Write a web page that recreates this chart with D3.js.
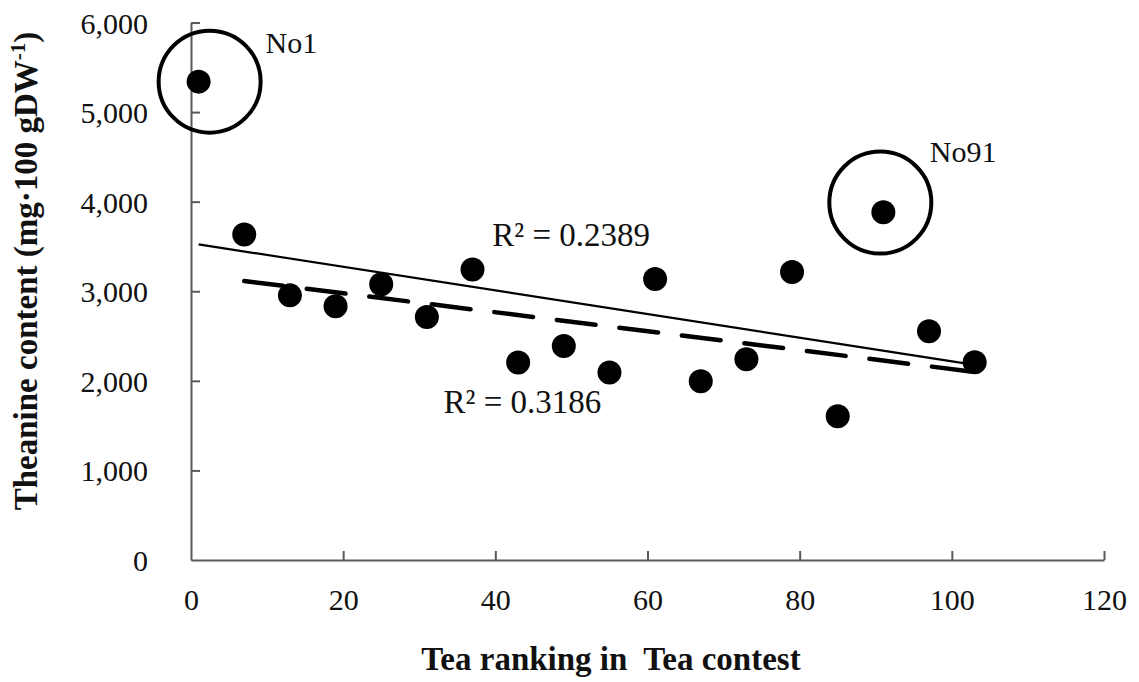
<!DOCTYPE html>
<html>
<head>
<meta charset="utf-8">
<script src="https://cdn.jsdelivr.net/npm/d3@7"></script>
<style>
  html, body { margin: 0; padding: 0; background: #fff; }
  svg { display: block; font-family: "Liberation Serif", "Times New Roman", serif; }
</style>
</head>
<body>
<svg id="chart" width="1139" height="682"></svg>
<script>
// ---- Data ----
const ranking = [1, 7, 13, 19, 25, 31, 37, 43, 49, 55, 61, 67, 73, 79, 85, 91, 97, 103];
const theanine = [5340, 3634, 2954, 2832, 3077, 2712, 3244, 2204, 2389, 2092, 3136, 1996, 2241, 3214, 1605, 3883, 2553, 2207];
const excluded = [1, 91];               // rankings left out of the dashed trend
const xTicks = [0, 20, 40, 60, 80, 100, 120];
const yTicks = [0, 1000, 2000, 3000, 4000, 5000, 6000];
const r2Labels = ["R\u00B2 = 0.2389", "R\u00B2 = 0.3186"];
const r2Anchor = [[39.6, 3504], [33.2, 1639]];
const highlightNames = ["No1", "No91"];
const highlightCenter = [[2.45, 5340], [90.6, 3990]];
const highlightLabel = [[9.8, 5660], [97.1, 4446]];

// ---- Layout ----
const svg = d3.select("#chart");
const x = d3.scaleLinear().domain([0, 120]).range([191, 1104]);
const y = d3.scaleLinear().domain([0, 6000]).range([560, 22.5]);
const axisColor = "#595959";

// Axes
const xAxis = svg.append("g").attr("transform", `translate(0,${y(0)})`)
  .call(d3.axisBottom(x).tickValues(xTicks).tickSizeInner(-9).tickSizeOuter(0).tickPadding(20).tickFormat(d3.format("d")));
const yAxis = svg.append("g").attr("transform", `translate(${x(0)},0)`)
  .call(d3.axisLeft(y).tickValues(yTicks).tickSizeInner(-9).tickSizeOuter(0).tickPadding(43).tickFormat(d3.format(",")));
[xAxis, yAxis].forEach(g => {
  g.select(".domain").attr("stroke", axisColor).attr("stroke-width", 2);
  g.selectAll(".tick line").attr("stroke", axisColor).attr("stroke-width", 2);
  g.selectAll(".tick text").attr("fill", "#111").style("font-size", "30px")
    .style("font-family", "'Liberation Serif', 'Times New Roman', serif");
});
xAxis.selectAll(".tick text").attr("dy", null).attr("y", 50);
yAxis.selectAll(".tick text").attr("dy", "0.35em");
xAxis.selectAll(".tick").filter(d => d === 0).select("line").remove();
yAxis.selectAll(".tick").filter(d => d === 0).select("line").remove();

// Axis titles
svg.append("text")
  .attr("x", 611).attr("y", 670)
  .attr("text-anchor", "middle")
  .style("font-size", "33px").style("font-weight", "bold").attr("fill", "#111")
  .attr("xml:space", "preserve")
  .text("Tea ranking in  Tea contest");

const yt = svg.append("text")
  .attr("transform", "translate(37,271) rotate(-90)")
  .attr("text-anchor", "middle")
  .style("font-size", "33px").style("font-weight", "bold").attr("fill", "#111");
yt.append("tspan").text("Theanine content (mg\u00B7100 gDW");
yt.append("tspan").attr("dy", -12).style("font-size", "21px").text("-1");
yt.append("tspan").attr("dy", 12).text(")");

// Regression helper
function fit(xs, ys) {
  const mx = d3.mean(xs), my = d3.mean(ys);
  let sxy = 0, sxx = 0;
  xs.forEach((v, i) => { sxy += (v - mx) * (ys[i] - my); sxx += (v - mx) * (v - mx); });
  const b = sxy / sxx;
  return { a: my - b * mx, b };
}
const allFit = fit(ranking, theanine);
const subX = ranking.filter(v => !excluded.includes(v));
const subY = theanine.filter((v, i) => !excluded.includes(ranking[i]));
const subFit = fit(subX, subY);

const line = d3.line().x(d => x(d[0])).y(d => y(d[1]));
const x0 = d3.min(ranking), x1 = d3.max(ranking);
svg.append("path")
  .attr("d", line([[x0, allFit.a + allFit.b * x0], [x1, allFit.a + allFit.b * x1]]))
  .attr("stroke", "#000").attr("stroke-width", 2.2).attr("fill", "none");
const sx0 = d3.min(subX), sx1 = d3.max(subX);
svg.append("path")
  .attr("d", line([[sx0, subFit.a + subFit.b * sx0], [sx1, subFit.a + subFit.b * sx1]]))
  .attr("stroke", "#000").attr("stroke-width", 4.5).attr("fill", "none")
  .attr("stroke-dasharray", "39,24").attr("stroke-linecap", "round");

// Points
svg.append("g").selectAll("circle")
  .data(ranking.map((r, i) => [r, theanine[i]]))
  .join("circle")
  .attr("cx", d => x(d[0])).attr("cy", d => y(d[1]))
  .attr("r", 12).attr("fill", "#000");

// Highlight circles
svg.append("g").selectAll("circle")
  .data(highlightCenter)
  .join("circle")
  .attr("cx", d => x(d[0])).attr("cy", d => y(d[1]))
  .attr("r", 51).attr("fill", "none").attr("stroke", "#000").attr("stroke-width", 4);
svg.append("g").selectAll("text")
  .data(highlightNames)
  .join("text")
  .attr("x", (d, i) => x(highlightLabel[i][0])).attr("y", (d, i) => y(highlightLabel[i][1]))
  .style("font-size", "30px").attr("fill", "#111")
  .text(d => d);

// R² labels
svg.append("g").selectAll("text")
  .data(r2Labels)
  .join("text")
  .attr("x", (d, i) => x(r2Anchor[i][0])).attr("y", (d, i) => y(r2Anchor[i][1]))
  .style("font-size", "33px").attr("fill", "#111")
  .text(d => d);
</script>
</body>
</html>
